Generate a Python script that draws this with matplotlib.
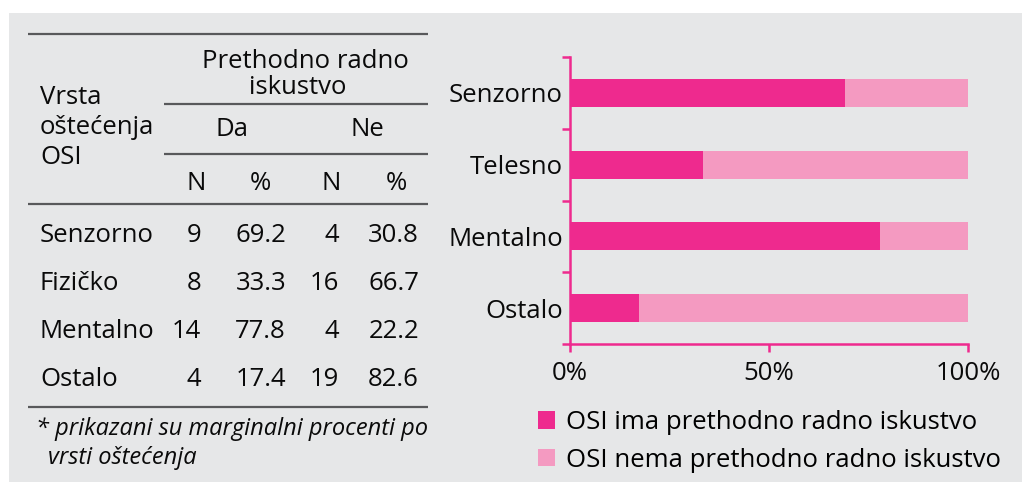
import matplotlib
matplotlib.use("Agg")
import matplotlib.pyplot as plt
from matplotlib.patches import Rectangle, Patch


# Data ---------------------------------------------------------------

Table_Rows = ["Senzorno", "Fizičko", "Mentalno", "Ostalo"]
Da_N = [9, 8, 14, 4]
Da_Pct = [69.2, 33.3, 77.8, 17.4]
Ne_N = [4, 16, 4, 19]
Ne_Pct = [30.8, 66.7, 22.2, 82.6]

Chart_Labels = ["Senzorno", "Telesno", "Mentalno", "Ostalo"]
Legend_Labels = ["OSI ima prethodno radno iskustvo", "OSI nema prethodno radno iskustvo"]
X_Ticks = [0, 50, 100]
X_Tick_Labels = ["0%", "50%", "100%"]


# Style --------------------------------------------------------------

plt.rcParams["font.family"] = ["Open Sans", "DejaVu Sans"]

Dark_Pink = "#ee2a8e"
Light_Pink = "#f49ac1"
Grey_Bg = "#e6e7e8"
Rule_Color = "#58595b"
Text_Color = "#0a0a0a"
Font_Size = 18.5

W, H = 1022, 482
fig = plt.figure(figsize=(W / 100, H / 100), dpi=100, facecolor="white")

# grey panel
fig.add_artist(Rectangle((9 / W, 0), 1 - 9 / W, 1 - 13 / H,
                         transform=fig.transFigure, facecolor=Grey_Bg,
                         edgecolor="none", zorder=-10))

# overlay axes in pixel units for the table
tab = fig.add_axes([0, 0, 1, 1])
tab.set_xlim(0, W)
tab.set_ylim(H, 0)
tab.axis("off")


def rule(x0, x1, y):
    tab.plot([x0, x1], [y, y], color=Rule_Color, lw=1.6, solid_capstyle="butt")


def txt(x, y, s, ha="left", **kw):
    tab.text(x, y, s, ha=ha, va="center", fontsize=Font_Size, color=Text_Color, **kw)


rule(28, 428, 34)
rule(164, 428, 104)
rule(164, 428, 154)
rule(28, 428, 204)
rule(28, 428, 407)

txt(305, 62, "Prethodno radno", ha="center")
txt(298, 88, "iskustvo", ha="center")
txt(40, 97, "Vrsta")
txt(40, 128, "oštećenja")
txt(40, 158, "OSI")
txt(232, 129, "Da", ha="center")
txt(367, 129, "Ne", ha="center")
txt(196, 183, "N", ha="center")
txt(260, 183, "%", ha="center")
txt(331, 183, "N", ha="center")
txt(396, 183, "%", ha="center")

Row_Y = [235, 283, 331, 379]
for i in range(len(Table_Rows)):
    y = Row_Y[i]
    txt(40, y, Table_Rows[i])
    txt(201, y, str(Da_N[i]), ha="right")
    txt(286, y, f"{Da_Pct[i]:.1f}", ha="right")
    txt(339, y, str(Ne_N[i]), ha="right")
    txt(419, y, f"{Ne_Pct[i]:.1f}", ha="right")

tab.text(36, 429, "* prikazani su marginalni procenti po", ha="left", va="center",
         fontsize=17, style="italic", color=Text_Color)
tab.text(48, 458, "vrsti oštećenja", ha="left", va="center",
         fontsize=17, style="italic", color=Text_Color)


# Bar chart ----------------------------------------------------------

ax_left, ax_right, ax_top, ax_bottom = 570, 968, 57, 344
ax = fig.add_axes([ax_left / W, 1 - ax_bottom / H,
                   (ax_right - ax_left) / W, (ax_bottom - ax_top) / H])
ax.patch.set_alpha(0)

Y_Pos = list(range(len(Chart_Labels)))
ax.barh(Y_Pos, Da_Pct, height=0.39, color=Dark_Pink, label=Legend_Labels[0])
ax.barh(Y_Pos, Ne_Pct, left=Da_Pct, height=0.39, color=Light_Pink, label=Legend_Labels[1])

ax.set_xlim(0, 100)
ax.set_ylim(len(Chart_Labels) - 0.5, -0.5)

for s in ["top", "right"]:
    ax.spines[s].set_visible(False)
for s in ["left", "bottom"]:
    ax.spines[s].set_color(Dark_Pink)
    ax.spines[s].set_linewidth(1.8)

ax.set_xticks(X_Ticks)
ax.set_xticklabels(X_Tick_Labels, fontsize=Font_Size, color=Text_Color)
ax.tick_params(axis="x", direction="out", length=6, width=1.8, color=Dark_Pink, pad=6)

ax.set_yticks([i - 0.5 for i in range(len(Chart_Labels) + 1)])
ax.set_yticklabels([])
ax.set_yticks(Y_Pos, minor=True)
ax.set_yticklabels(Chart_Labels, minor=True, fontsize=Font_Size, color=Text_Color)
ax.tick_params(axis="y", which="major", direction="out", length=6, width=1.8, color=Dark_Pink)
ax.tick_params(axis="y", which="minor", length=0, pad=5)

handles = [Patch(facecolor=Dark_Pink, edgecolor="none"),
           Patch(facecolor=Light_Pink, edgecolor="none")]
fig.legend(handles, Legend_Labels, loc="upper left",
           bbox_to_anchor=(538 / W, 1 - 410 / H), frameon=False,
           fontsize=Font_Size, handlelength=0.65, handleheight=0.65,
           handletextpad=0.45, labelspacing=0.5, borderaxespad=0, borderpad=0)

plt.savefig("out.png", dpi=100, facecolor="white")
